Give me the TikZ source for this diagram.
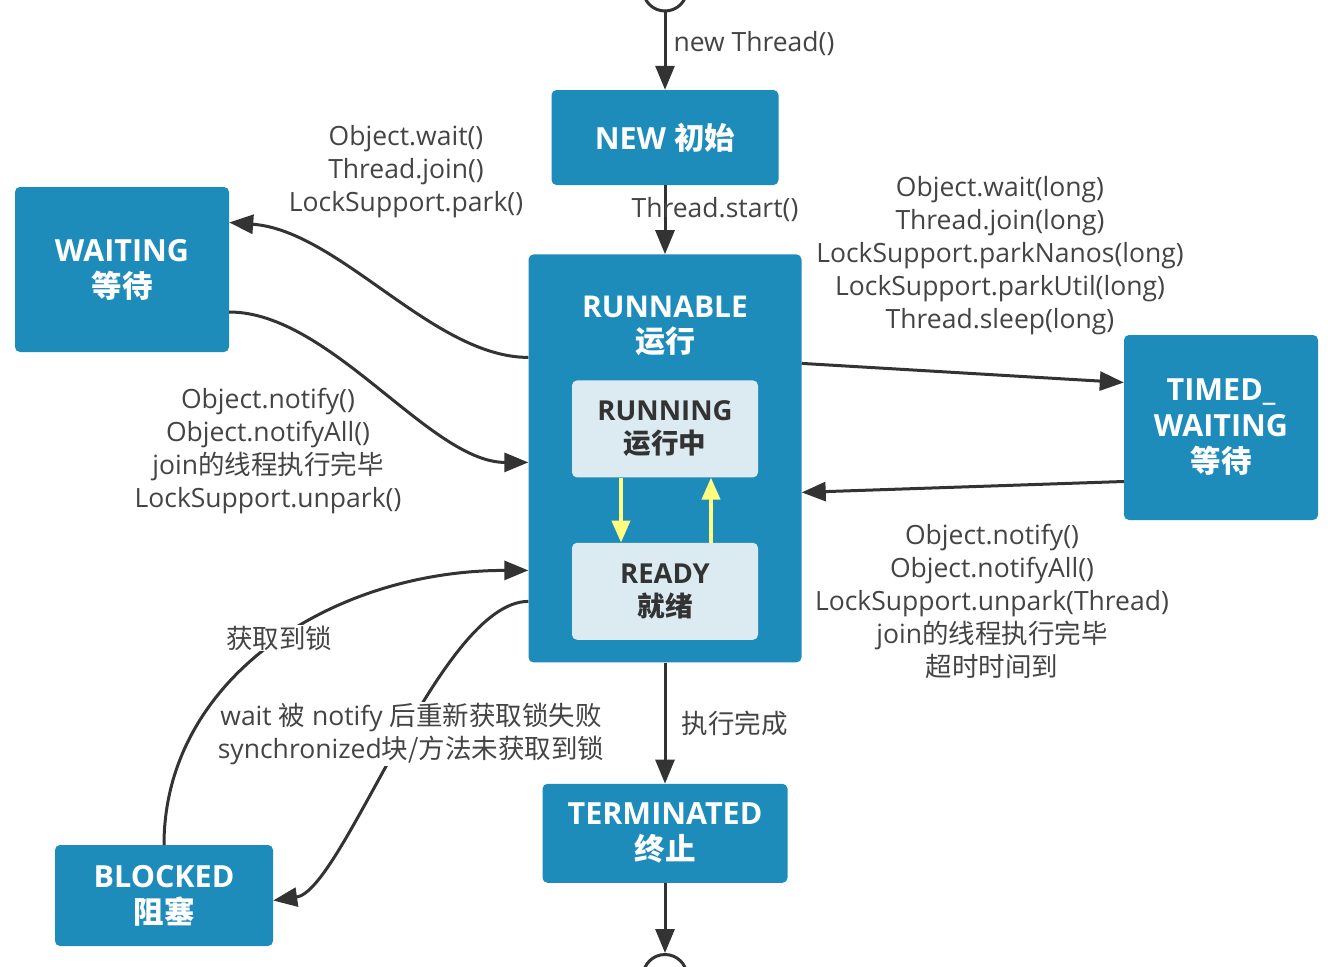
\documentclass[tikz,border=0pt]{standalone}
\usepackage{fontspec}
\setmainfont{Open Sans}
\newfontfamily\zhfont{Noto Sans CJK SC}
\newcommand\zhtext[1]{{\zhfont #1}}
\usetikzlibrary{arrows.meta,positioning}
\definecolor{Ink}{HTML}{333333}
\definecolor{Muted}{HTML}{444444}
\definecolor{StateFill}{HTML}{1E8CBB}
\definecolor{SubFill}{HTML}{DCEAF2}
\definecolor{Glow}{HTML}{FFFF80}
\tikzset{
  flow/.style={-{Triangle[length=24pt,width=19pt]}, draw=Ink, line width=3pt},
  toggle/.style={-{Triangle[length=22pt,width=18pt]}, draw=Glow, line width=4pt},
  state/.style={fill=StateFill, rounded corners=5pt, text=white, align=center, inner sep=0pt,
    font=\bfseries\fontsize{30.5}{36}\selectfont},
  statetitle/.style={text=white, align=center, inner sep=0pt, font=\bfseries\fontsize{30}{35}\selectfont},
  substate/.style={fill=SubFill, rounded corners=5pt, text=Ink, align=center, inner sep=0pt,
    font=\bfseries\fontsize{27.5}{33}\selectfont},
  terminal/.style={circle, draw=Ink, fill=white, line width=3pt, minimum size=44pt, inner sep=0pt},
  note/.style={font=\fontsize{26.5}{33}\selectfont, text=Muted, align=center, inner sep=1pt},
  cutnote/.style={note, fill=white},
}

\begin{document}
\begin{tikzpicture}[x=1pt, y=-1pt]
  \useasboundingbox[fill=white] (0,0) rectangle (1332,966);

  % Main column: start, NEW, RUNNABLE, TERMINATED, end.
  \node[terminal] (begin) at (665,-11) {};
  \node[state, minimum width=227pt, minimum height=95pt] (new) at (665,137.5) {NEW \zhtext{初始}};
  \node[state, minimum width=273pt, minimum height=408pt, below=69pt of new] (runnable) {};
  \node[statetitle] at ([yshift=-72pt]runnable.north) {RUNNABLE\\\zhtext{运行}};
  \node[substate, minimum width=186pt, minimum height=97pt, below=126pt of runnable.north] (running)
    {RUNNING\\\zhtext{运行中}};
  \node[substate, minimum width=186pt, minimum height=97pt, below=65pt of running] (ready)
    {READY\\\zhtext{就绪}};
  \node[state, minimum width=245pt, minimum height=99pt, below=121pt of runnable] (terminated)
    {TERMINATED\\\zhtext{终止}};
  \node[terminal, below=70pt of terminated] (finish) {};

  % Side states.
  \node[state, minimum width=214pt, minimum height=165pt] (waiting) at (122,269.5) {WAITING\\\zhtext{等待}};
  \node[state, minimum width=194pt, minimum height=185pt] (timed) at (1221,427.5)
    {TIMED\_\\WAITING\\\zhtext{等待}};
  \node[state, minimum width=218pt, minimum height=101pt] (blocked) at (164,895.5) {BLOCKED\\\zhtext{阻塞}};

  % Main column flow.
  \draw[flow] (begin) -- node[note, right=6pt, pos=0.4] {new Thread()} (new);
  \draw[flow] (new) -- node[note, pos=0.35, xshift=50pt] {Thread.start()} (runnable);
  \draw[flow] (runnable) -- node[note, right=14pt] {\zhtext{执行完成}} (terminated);
  \draw[flow] (terminated) -- (finish);

  % Running <-> ready inside RUNNABLE.
  \draw[toggle] ([xshift=-44pt]running.south) -- ([xshift=-44pt]ready.north);
  \draw[toggle] ([xshift=46pt]ready.north) -- ([xshift=46pt]running.south);

  % Waiting.
  \draw[flow] ([yshift=101pt]runnable.west) .. controls +(-95,0) and +(110,8) .. ([yshift=47pt]waiting.east);
  \draw[flow] ([yshift=-42.5pt]waiting.east) .. controls +(101,0) and +(-98,0) .. ([yshift=-4pt]runnable.west);
  \node[note] (waitnote) at (406,171.5) {Object.wait()\\Thread.join()\\LockSupport.park()};
  \node[note] (notifynote) at (268,451)
    {Object.notify()\\Object.notifyAll()\\join\zhtext{的线程执行完毕}\\LockSupport.unpark()};

  % Timed waiting.
  \draw[flow] ([yshift=95pt]runnable.east) -- ([yshift=45pt]timed.west);
  \draw[flow] ([yshift=-54pt]timed.west) -- ([yshift=-34pt]runnable.east);
  \node[note] (timednote) at (1000,255.5)
    {Object.wait(long)\\Thread.join(long)\\LockSupport.parkNanos(long)\\LockSupport.parkUtil(long)\\Thread.sleep(long)};
  \node[note] (resumenote) at (992,601.5)
    {Object.notify()\\Object.notifyAll()\\LockSupport.unpark(Thread)\\join\zhtext{的线程执行完毕}\\\zhtext{超时时间到}};

  % Blocked, labels cut through the curves.
  \draw[flow] (blocked.north) .. controls +(0,-165) and +(-198,0) .. ([yshift=-112pt]runnable.west);
  \draw[flow] ([yshift=-143pt]runnable.west) .. controls +(-88,0) and +(70,-10) .. ([yshift=-5pt]blocked.east);
  \node[cutnote] (locknote) at (279,638) {\zhtext{获取到锁}};
  \node[cutnote] (failnote) at (411,734)
    {wait \zhtext{被} notify \zhtext{后重新获取锁失败}\\synchronized\zhtext{块/方法未获取到锁}};
\end{tikzpicture}
\end{document}
